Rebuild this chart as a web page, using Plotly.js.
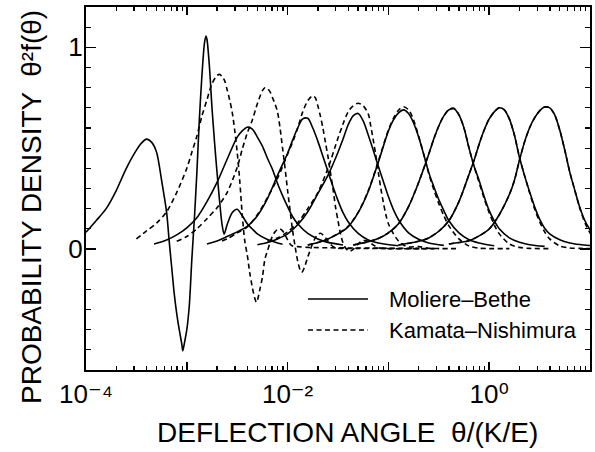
<!DOCTYPE html>
<html>
<head>
<meta charset="utf-8">
<script src="https://cdn.plot.ly/plotly-3.0.1.min.js"></script>
<style>html,body{margin:0;padding:0;background:#fff;}#chart{width:595px;height:452px;}</style>
</head>
<body>
<div id="chart"></div>
<script>
// ---- Data (x = theta/(K/E), y = theta^2 f(theta)) ----
const seriesNames = ["Moliere\u2013Bethe", "Kamata\u2013Nishimura"];

// Moliere–Bethe curves
const mb1x = [1.000e-4,1.259e-4,1.585e-4,1.995e-4,2.512e-4,3.162e-4,3.548e-4,3.981e-4,4.467e-4,5.012e-4,5.623e-4,6.310e-4,6.683e-4,7.079e-4,7.499e-4,7.943e-4,8.414e-4,8.913e-4,9.120e-4,9.441e-4,1.000e-3,1.059e-3,1.122e-3,1.189e-3,1.259e-3,1.334e-3,1.413e-3,1.496e-3,1.549e-3,1.585e-3,1.679e-3,1.778e-3,1.884e-3,1.995e-3,2.113e-3,2.239e-3,2.344e-3,2.512e-3,2.818e-3,3.162e-3,3.548e-3,3.981e-3,4.467e-3,5.012e-3,6.310e-3,7.943e-3,8.913e-3];
const mb1y = [0.083,0.14,0.20,0.29,0.40,0.49,0.525,0.545,0.53,0.48,0.34,0.18,0.04,-0.09,-0.22,-0.32,-0.40,-0.47,-0.505,-0.47,-0.40,-0.28,-0.05,0.15,0.38,0.65,0.86,1.02,1.056,1.04,0.90,0.70,0.53,0.38,0.24,0.12,0.074,0.12,0.18,0.197,0.165,0.125,0.099,0.075,0.047,0.03,0.024];
const mb2x = [4.732e-4,6.310e-4,7.943e-4,1.000e-3,1.259e-3,1.585e-3,1.995e-3,2.512e-3,3.162e-3,3.548e-3,3.981e-3,4.467e-3,5.012e-3,5.623e-3,6.310e-3,7.079e-3,7.943e-3,8.913e-3,1.000e-2,1.122e-2,1.259e-2,1.585e-2,1.995e-2,2.512e-2,3.548e-2];
const mb2y = [0.025,0.045,0.07,0.105,0.155,0.235,0.33,0.445,0.555,0.586,0.604,0.595,0.555,0.51,0.45,0.395,0.325,0.265,0.21,0.16,0.125,0.077,0.05,0.033,0.02];
const mb3x = [1.585e-3,1.995e-3,2.512e-3,3.162e-3,3.981e-3,5.012e-3,6.310e-3,7.943e-3,1.000e-2,1.122e-2,1.259e-2,1.413e-2,1.585e-2,1.778e-2,1.995e-2,2.239e-2,2.512e-2,2.818e-2,3.162e-2,3.548e-2,3.981e-2,5.012e-2,6.310e-2,7.943e-2,0.1259];
const mb3y = [0.025,0.04,0.062,0.085,0.112,0.165,0.25,0.365,0.475,0.54,0.60,0.645,0.648,0.60,0.535,0.46,0.385,0.31,0.24,0.18,0.135,0.077,0.045,0.03,0.016];
const mb4x = [5.012e-3,6.310e-3,7.943e-3,1.000e-2,1.259e-2,1.585e-2,1.995e-2,2.512e-2,3.162e-2,3.548e-2,3.981e-2,4.467e-2,5.012e-2,5.623e-2,6.310e-2,7.079e-2,7.943e-2,8.913e-2,0.1,0.1122,0.1259,0.1585,0.1995,0.2512,0.3548];
const mb4y = [0.021,0.032,0.05,0.075,0.12,0.185,0.275,0.365,0.48,0.545,0.615,0.66,0.672,0.635,0.565,0.49,0.41,0.335,0.26,0.195,0.145,0.08,0.048,0.03,0.018];
const mb5x = [1.585e-2,1.995e-2,2.512e-2,3.162e-2,3.981e-2,5.012e-2,6.310e-2,7.943e-2,0.1,0.1122,0.1259,0.1413,0.1585,0.1778,0.1995,0.2239,0.2512,0.2818,0.3162,0.3548,0.3981,0.5012,0.6310,0.7943,1.122];
const mb5y = [0.02,0.032,0.05,0.075,0.11,0.18,0.285,0.43,0.585,0.64,0.675,0.69,0.672,0.625,0.555,0.47,0.38,0.31,0.245,0.19,0.14,0.08,0.046,0.03,0.016];
const mb6x = [4.467e-2,6.310e-2,7.943e-2,0.1,0.1259,0.1585,0.1995,0.2512,0.2818,0.3162,0.3548,0.3981,0.4467,0.5012,0.5623,0.6310,0.7079,0.7943,0.8913,1.0,1.122,1.259,1.585,1.995,2.512,3.548];
const mb6y = [0.02,0.036,0.052,0.08,0.125,0.21,0.33,0.47,0.545,0.61,0.66,0.69,0.695,0.665,0.6,0.5,0.41,0.34,0.26,0.19,0.14,0.1,0.055,0.033,0.021,0.013];
const mb7x = [0.1259,0.1995,0.2512,0.3162,0.3981,0.5012,0.6310,0.7079,0.7943,0.8913,1.0,1.122,1.259,1.413,1.585,1.778,1.995,2.239,2.512,2.818,3.162,3.548,3.981,5.012,6.310,7.943,10];
const mb7y = [0.02,0.038,0.055,0.088,0.14,0.235,0.37,0.44,0.52,0.59,0.645,0.68,0.70,0.69,0.645,0.565,0.455,0.365,0.285,0.21,0.148,0.103,0.075,0.046,0.03,0.022,0.017];
const mb8x = [0.3981,0.5012,0.6310,0.7943,1.0,1.259,1.585,1.778,1.995,2.239,2.512,2.818,3.162,3.548,3.981,4.467,5.012,5.623,6.310,7.079,7.943,8.913,10,11.22];
const mb8y = [0.025,0.032,0.041,0.065,0.099,0.17,0.27,0.34,0.44,0.53,0.6,0.65,0.685,0.704,0.70,0.665,0.59,0.49,0.38,0.29,0.205,0.14,0.095,0.06];

// Kamata–Nishimura curves
const kn1x = [3.162e-4,3.981e-4,5.012e-4,6.310e-4,7.943e-4,1.000e-3,1.122e-3,1.259e-3,1.413e-3,1.585e-3,1.778e-3,1.995e-3,2.113e-3,2.239e-3,2.371e-3,2.512e-3,2.661e-3,2.818e-3,2.985e-3,3.162e-3,3.350e-3,3.548e-3,3.758e-3,3.981e-3,4.217e-3,4.467e-3,4.732e-3,4.898e-3,5.012e-3,5.309e-3,5.623e-3,5.957e-3,6.310e-3,6.683e-3,7.079e-3,7.499e-3,7.943e-3,8.414e-3,8.913e-3,9.441e-3,1.0e-2,1.059e-2,1.122e-2,1.259e-2,1.585e-2,2.512e-2,5.012e-2,0.1,0.1995];
const kn1y = [0.05,0.09,0.128,0.185,0.28,0.40,0.48,0.56,0.66,0.74,0.82,0.86,0.866,0.855,0.835,0.79,0.74,0.68,0.59,0.48,0.34,0.17,0.04,-0.03,-0.12,-0.19,-0.245,-0.264,-0.255,-0.2,-0.14,-0.05,-0.01,0.03,0.065,0.085,0.096,0.099,0.09,0.07,0.045,0.025,0.015,0.012,0.008,0.006,0.005,0.004,0.003];
const kn2x = [7.943e-4,1.0e-3,1.259e-3,1.585e-3,1.995e-3,2.512e-3,3.162e-3,3.548e-3,3.981e-3,4.467e-3,5.012e-3,5.623e-3,5.957e-3,6.310e-3,6.683e-3,7.079e-3,7.499e-3,7.943e-3,8.414e-3,8.913e-3,9.441e-3,1.0e-2,1.059e-2,1.122e-2,1.189e-2,1.259e-2,1.334e-2,1.380e-2,1.413e-2,1.496e-2,1.585e-2,1.679e-2,1.778e-2,1.884e-2,1.995e-2,2.113e-2,2.239e-2,2.512e-2,2.818e-2,3.162e-2,5.012e-2,0.1,0.2818];
const kn2y = [0.038,0.062,0.1,0.15,0.205,0.28,0.405,0.495,0.575,0.64,0.72,0.785,0.80,0.795,0.78,0.75,0.72,0.68,0.6,0.5,0.4,0.29,0.19,0.09,0.01,-0.06,-0.105,-0.115,-0.11,-0.08,-0.04,-0.005,0.03,0.055,0.072,0.078,0.07,0.04,0.012,0.004,0.003,0.002,0.002];
const kn3x = [2.239e-3,2.512e-3,3.162e-3,3.981e-3,5.012e-3,6.310e-3,7.943e-3,1.0e-2,1.122e-2,1.259e-2,1.413e-2,1.585e-2,1.778e-2,1.884e-2,1.995e-2,2.113e-2,2.239e-2,2.371e-2,2.512e-2,2.661e-2,2.818e-2,2.985e-2,3.162e-2,3.350e-2,3.548e-2,3.758e-2,3.981e-2,4.217e-2,4.467e-2,5.012e-2,5.623e-2,6.310e-2,7.079e-2,7.943e-2,0.1,0.3162];
const kn3y = [0.04,0.05,0.08,0.11,0.17,0.255,0.35,0.47,0.53,0.6,0.68,0.735,0.76,0.75,0.71,0.66,0.6,0.53,0.46,0.38,0.3,0.21,0.14,0.075,0.03,0.005,-0.008,-0.01,-0.002,0.025,0.042,0.038,0.02,0.006,0.002,0.002];
const kn4x = [6.310e-3,7.943e-3,1.0e-2,1.259e-2,1.585e-2,1.995e-2,2.512e-2,3.162e-2,3.548e-2,3.981e-2,4.467e-2,5.012e-2,5.623e-2,6.310e-2,6.683e-2,7.079e-2,7.499e-2,7.943e-2,8.414e-2,8.913e-2,9.441e-2,0.1,0.1122,0.1259,0.1413,0.1585,0.1995,0.2512,0.5012];
const kn4y = [0.038,0.055,0.085,0.13,0.2,0.28,0.4,0.55,0.62,0.68,0.71,0.723,0.71,0.67,0.61,0.54,0.465,0.38,0.3,0.23,0.17,0.125,0.075,0.04,0.02,0.01,0.012,0.004,0.002];
const kn5x = [1.585e-2,1.995e-2,2.512e-2,3.162e-2,3.981e-2,5.012e-2,6.310e-2,7.943e-2,0.1,0.1122,0.1259,0.1413,0.1585,0.1778,0.1995,0.2239,0.2512,0.2818,0.3162,0.3548,0.3981,0.5012,0.6310,0.7943,1.0,1.585];
const kn5y = [0.02,0.032,0.05,0.076,0.112,0.182,0.288,0.435,0.59,0.648,0.688,0.705,0.69,0.64,0.56,0.47,0.375,0.295,0.225,0.165,0.115,0.05,0.015,0.004,0.002,0.002];
const kn6x = [4.467e-2,6.310e-2,7.943e-2,0.1,0.1259,0.1585,0.1995,0.2512,0.2818,0.3162,0.3548,0.3981,0.4467,0.5012,0.5623,0.6310,0.7079,0.7943,0.8913,1.0,1.122,1.259,1.585,1.995,2.512,3.981];
const kn6y = [0.02,0.036,0.052,0.08,0.125,0.21,0.33,0.47,0.545,0.61,0.66,0.692,0.698,0.665,0.6,0.5,0.41,0.33,0.25,0.18,0.12,0.075,0.025,0.008,0.003,0.002];
const kn7x = [0.1259,0.1995,0.2512,0.3162,0.3981,0.5012,0.6310,0.7079,0.7943,0.8913,1.0,1.122,1.259,1.413,1.585,1.778,1.995,2.239,2.512,2.818,3.162,3.548,3.981,5.012,6.310,7.943,10];
const kn7y = [0.02,0.038,0.055,0.088,0.14,0.235,0.37,0.44,0.52,0.59,0.645,0.68,0.70,0.69,0.645,0.565,0.455,0.365,0.28,0.2,0.135,0.085,0.05,0.015,0.005,0.003,0.002];
const kn8x = [0.3981,0.5012,0.6310,0.7943,1.0,1.259,1.585,1.778,1.995,2.239,2.512,2.818,3.162,3.548,3.981,4.467,5.012,5.623,6.310,7.079,7.943,8.913,10,11.22];
const kn8y = [0.025,0.032,0.041,0.065,0.099,0.17,0.27,0.34,0.44,0.53,0.6,0.65,0.685,0.704,0.70,0.665,0.59,0.49,0.38,0.29,0.2,0.13,0.08,0.045];

// Axis ticks
const xLabelVals = [1e-4, 1e-2, 1];                       // labelled decades
const xLabelText = ["10\u207B\u2074", "10\u207B\u00B2", "10\u2070"];
const xOddDecades = [1e-3, 1e-1, 10];                     // unlabelled decade ticks
const yTickVals = [0, 1];
const yTickText = ["0", "1"];

// ---- Build traces ----
const FONT = '"Liberation Sans", Arial, Helvetica, "DejaVu Sans", sans-serif';
const mbSets = [[mb1x,mb1y],[mb2x,mb2y],[mb3x,mb3y],[mb4x,mb4y],[mb5x,mb5y],[mb6x,mb6y],[mb7x,mb7y],[mb8x,mb8y]];
const knSets = [[kn1x,kn1y],[kn2x,kn2y],[kn3x,kn3y],[kn4x,kn4y],[kn5x,kn5y],[kn6x,kn6y],[kn7x,kn7y],[kn8x,kn8y]];
const DASH = "5px,3.5px";
const traces = [];
knSets.forEach(function(s){
  traces.push({x:s[0], y:s[1], type:'scatter', mode:'lines', name:seriesNames[1], legendgroup:'kn',
    showlegend:false, line:{color:'#000', width:1.6, dash:DASH, shape:'spline', smoothing:0.8}, hoverinfo:'skip'});
});
mbSets.forEach(function(s){
  traces.push({x:s[0], y:s[1], type:'scatter', mode:'lines', name:seriesNames[0], legendgroup:'mb',
    showlegend:false, line:{color:'#000', width:1.6, shape:'spline', smoothing:0.8}, hoverinfo:'skip'});
});
// empty helper trace so that the overlaying axis (unlabelled decade ticks) is drawn
traces.push({x: xOddDecades, y: xOddDecades.map(function(){ return null; }), xaxis: 'x2', yaxis: 'y',
  type: 'scatter', mode: 'lines', showlegend: false, hoverinfo: 'skip', line: {width: 0}});

const minorX = [];
for (let e = -4; e <= 0; e++) { for (let m = 2; m <= 9; m++) { minorX.push(m * Math.pow(10, e)); } }

// plot area: x 86..590, y 7..370
const PL = 86, PR = 590, PT = 7, PB = 370;
function px2paperX(p){ return (p - PL) / (PR - PL); }
function px2paperY(p){ return (PB - p) / (PB - PT); }

const layout = {
  width: 595, height: 452,
  margin: {l: PL, r: 595 - PR, t: PT, b: 452 - PB, pad: 0},
  paper_bgcolor: '#fff', plot_bgcolor: '#fff',
  font: {family: FONT, color: '#000', size: 22},
  showlegend: false,
  xaxis: {
    type: 'log', range: [-4, 1], autorange: false,
    showline: true, linecolor: '#000', linewidth: 2, mirror: 'ticks',
    ticks: 'inside', ticklen: 8, tickwidth: 1.6, tickcolor: '#000',
    tickmode: 'array', tickvals: xLabelVals, ticktext: xLabelText,
    tickfont: {family: FONT, size: 26, color: '#000'},
    minor: {tickmode: 'array', tickvals: minorX, ticks: 'inside', ticklen: 4, tickwidth: 1.3, tickcolor: '#000', showgrid: false},
    showgrid: false, zeroline: false, automargin: false, layer: 'above traces'
  },
  xaxis2: {
    type: 'log', range: [-4, 1], autorange: false, overlaying: 'x', anchor: 'y', side: 'bottom',
    showline: false, mirror: 'ticks', showticklabels: false,
    ticks: 'inside', ticklen: 8, tickwidth: 1.6, tickcolor: '#000',
    tickmode: 'array', tickvals: xOddDecades,
    showgrid: false, zeroline: false, automargin: false, layer: 'above traces'
  },
  yaxis: {
    range: [-0.6, 1.2], autorange: false,
    showline: true, linecolor: '#000', linewidth: 2, mirror: 'ticks',
    ticks: 'inside', ticklen: 10, tickwidth: 1.6, tickcolor: '#000',
    tickmode: 'array', tickvals: yTickVals, ticktext: yTickText,
    tickfont: {family: FONT, size: 26, color: '#000'},
    ticklabelstandoff: -4,
    minor: {dtick: 0.1, tick0: 0, ticks: 'inside', ticklen: 5, tickwidth: 1.3, tickcolor: '#000', showgrid: false},
    showgrid: false, zeroline: false, automargin: false, layer: 'above traces'
  },
  annotations: [
    {text: 'DEFLECTION ANGLE  \u03b8/(K/E)', xref: 'paper', yref: 'paper',
     x: px2paperX(347), y: px2paperY(432), xanchor: 'center', yanchor: 'middle', showarrow: false,
     font: {family: FONT, size: 28, color: '#000'}},
    {text: 'PROBABILITY DENSITY  \u03b8\u00B2f(\u03b8)', xref: 'paper', yref: 'paper',
     x: px2paperX(31), y: px2paperY(207), xanchor: 'center', yanchor: 'middle', textangle: -90, showarrow: false,
     font: {family: FONT, size: 28, color: '#000'}},
    {text: seriesNames[0], xref: 'paper', yref: 'paper', x: px2paperX(387), y: px2paperY(299),
     xanchor: 'left', yanchor: 'middle', showarrow: false, font: {family: FONT, size: 22, color: '#000'}},
    {text: seriesNames[1], xref: 'paper', yref: 'paper', x: px2paperX(387), y: px2paperY(330),
     xanchor: 'left', yanchor: 'middle', showarrow: false, font: {family: FONT, size: 22, color: '#000'}}
  ],
  shapes: [
    {type: 'line', xref: 'paper', yref: 'paper', x0: px2paperX(308), x1: px2paperX(368), y0: px2paperY(299), y1: px2paperY(299),
     line: {color: '#000', width: 1.6}},
    {type: 'line', xref: 'paper', yref: 'paper', x0: px2paperX(308), x1: px2paperX(368), y0: px2paperY(330), y1: px2paperY(330),
     line: {color: '#000', width: 1.6, dash: DASH}}
  ]
};

Plotly.newPlot('chart', traces, layout, {staticPlot: true, displayModeBar: false});
</script>
</body>
</html>
